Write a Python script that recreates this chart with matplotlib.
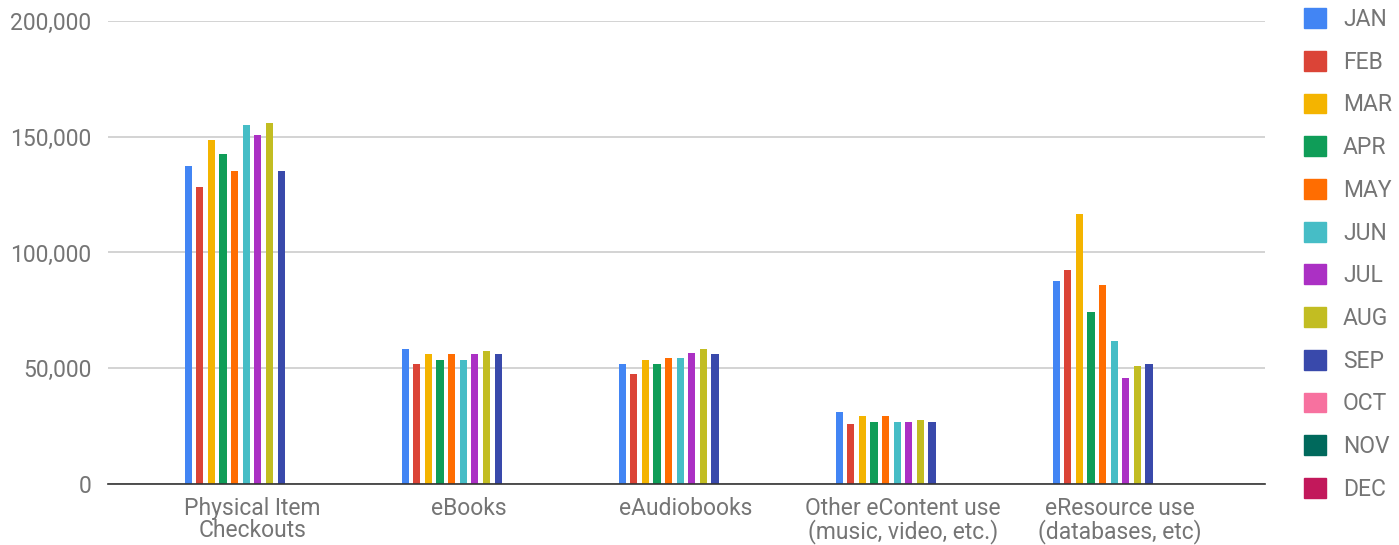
import numpy as np
import matplotlib.pyplot as plt
from matplotlib.patches import Patch

plt.rcParams['font.family'] = ['Roboto', 'DejaVu Sans']

categories = ["Physical Item\nCheckouts", "eBooks", "eAudiobooks",
              "Other eContent use\n(music, video, etc.)", "eResource use\n(databases, etc)"]
months = ["JAN", "FEB", "MAR", "APR", "MAY", "JUN", "JUL", "AUG", "SEP", "OCT", "NOV", "DEC"]

# values per month, one entry per category (OCT-DEC have no data)
jan = [137500, 58300, 51800, 31000, 87700]
feb = [128400, 51800, 47600, 25900, 92600]
mar = [148500, 56000, 53400, 29400, 116600]
apr = [142500, 53400, 51800, 26800, 74200]
may = [135000, 56000, 54300, 29400, 85800]
jun = [155000, 53400, 54300, 26800, 61600]
jul = [150900, 56000, 56700, 26800, 45900]
aug = [155800, 57600, 58300, 27600, 51000]
sep = [135000, 56000, 56000, 26800, 51800]
oct_ = [0, 0, 0, 0, 0]
nov = [0, 0, 0, 0, 0]
dec = [0, 0, 0, 0, 0]
series = [jan, feb, mar, apr, may, jun, jul, aug, sep, oct_, nov, dec]

colors = ["#4285F4", "#DB4437", "#F4B400", "#0F9D58", "#FF6D01", "#46BDC6",
          "#AB30C4", "#C2BD22", "#3949AB", "#F7719F", "#00695C", "#C2185B"]

grey = "#757575"
fs = 16.5

fig = plt.figure(figsize=(13.99, 5.45), dpi=100)
ax = fig.add_axes([0.0772, 0.1119, 0.8270, 0.8496])

x = np.arange(len(categories))
step = 0.0535
for j, (vals, c) in enumerate(zip(series, colors)):
    if max(vals) == 0:
        continue
    ax.bar(x + (j - 5.5) * step, vals, width=0.033, color=c, zorder=3)

ax.set_ylim(0, 200000)
ax.set_xlim(-0.664, 4.668)
ax.set_yticks([0, 50000, 100000, 150000, 200000])
ax.set_yticklabels([f"{v:,}" for v in [0, 50000, 100000, 150000, 200000]])
ax.set_xticks(x)
ax.set_xticklabels(categories, linespacing=0.98)
ax.tick_params(length=0, labelsize=fs, labelcolor=grey)
ax.tick_params(axis='y', pad=12)
ax.tick_params(axis='x', pad=9)
ax.grid(axis='y', color="#cccccc", linewidth=1.2, zorder=0)
for s in ['top', 'right', 'left']:
    ax.spines[s].set_visible(False)
ax.spines['bottom'].set_color("#333333")
ax.spines['bottom'].set_linewidth(1.2)
ax.spines['bottom'].set_zorder(4)

handles = [Patch(facecolor=c, edgecolor=c) for c in colors]
fig.legend(handles, months, loc='upper left', bbox_to_anchor=(1304 / 1399, 1 - 8 / 545),
           frameon=False, fontsize=fs, labelcolor=grey, handlelength=0.95,
           handleheight=0.95, labelspacing=0.86, handletextpad=0.75,
           borderpad=0, borderaxespad=0)

fig.savefig("out.png", dpi=100)
